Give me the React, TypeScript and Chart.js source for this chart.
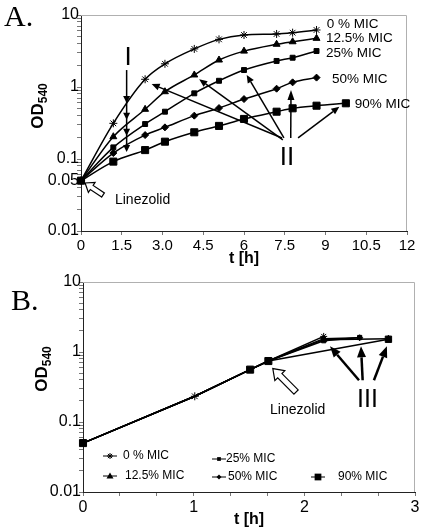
import React, { useEffect, useRef } from "react";
import { Chart, registerables } from "chart.js";

Chart.register(...registerables);

const FONT = "'Liberation Sans', Arial, sans-serif";
const SERIF = "'Liberation Serif', 'Times New Roman', serif";

// ---------------- Panel A data ----------------
const seriesNames = ["0 % MIC", "12.5% MIC", "25% MIC", "50% MIC", "90% MIC"];
const timeA = [0, 1.19, 2.36, 3.09, 4.17, 5.08, 6.0, 7.2, 7.79, 8.67];
const timeA90 = [0, 1.19, 2.36, 3.09, 4.17, 5.08, 6.0, 7.2, 7.79, 8.67, 9.75];
const odA0 = [0.05, 0.313, 1.28, 2.1, 3.38, 4.59, 5.27, 5.45, 5.68, 6.19];
const odA12 = [0.05, 0.204, 0.49, 0.86, 1.47, 2.37, 3.15, 3.92, 4.25, 4.74];
const odA25 = [0.05, 0.145, 0.306, 0.454, 0.817, 1.22, 1.72, 2.3, 2.55, 3.16];
const odA50 = [0.05, 0.121, 0.215, 0.275, 0.4, 0.51, 0.68, 0.947, 1.16, 1.35];
const odA90 = [0.05, 0.092, 0.133, 0.174, 0.235, 0.288, 0.36, 0.454, 0.506, 0.55, 0.594];

const xTicksA = [0, 1.5, 3, 4.5, 6, 7.5, 9, 10.5, 12];
const xTickLabelsA = ["0", "1.5", "3.0", "4.5", "6", "7.5", "9", "10.5", "12"];
const yLabelValuesA = [0.01, 0.05, 0.1, 1, 10];
const yLabelTextsA = ["0.01", "0.05", "0.1", "1", "10"];

// ---------------- Panel B data ----------------
const timeBCommon = [0, 1.01, 1.51, 1.675];
const odBCommon = [0.05, 0.233, 0.56, 0.743];
const timeB0 = [2.175];
const odB0 = [1.67];
const timeB12 = [2.175, 2.76];
const odB12 = [1.5, 1.55];
const timeB25 = [2.175, 2.5];
const odB25 = [1.45, 1.61];
const timeB50 = [2.175, 2.5];
const odB50 = [1.55, 1.6];
const timeB90 = [2.76];
const odB90 = [1.52];

const xTicksB = [0, 1 / 3, 2 / 3, 1, 4 / 3, 5 / 3, 2, 7 / 3, 8 / 3, 3];
const xTickLabelsB = ["0", "", "", "1", "", "", "2", "", "", "3"];
const yLabelValuesB = [0.01, 0.1, 1, 10];
const yLabelTextsB = ["0.01", "0.1", "1", "10"];

// log minor tick values (1..9 per decade)
const logTickValues: number[] = [];
for (let e = -2; e < 1; e++) {
  for (let m = 1; m < 10; m++) logTickValues.push(parseFloat((m * Math.pow(10, e)).toPrecision(3)));
}
logTickValues.push(10);

// ---------------- Annotation anchors (data units) ----------------
const labelPosA: [number, number][] = [
  [9.05, 7.5],
  [9.02, 4.8],
  [9.02, 2.97],
  [9.24, 1.29],
  [10.08, 0.58],
];
const arrowIT = 1.68;
const arrowITop = 1.72;
const arrowIHeads = [0.6, 0.35, 0.21, 0.125];
const labelIPos: [number, number] = [1.73, 2.57];
const arrowsII: [number, number, number, number][] = [
  [7.4, 0.196, 2.6, 1.1],
  [7.43, 0.184, 4.35, 1.28],
  [7.47, 0.196, 6.1, 1.47],
  [7.72, 0.196, 7.73, 0.908],
  [7.99, 0.196, 9.51, 0.532],
];
const labelIIPos: [number, number] = [7.58, 0.103];
const linezolidArrowA: [number, number, number, number] = [0.81, 0.0316, 0.15, 0.0464];
const linezolidTextA: [number, number] = [1.25, 0.027];

const linezolidArrowB: [number, number, number, number] = [1.925, 0.268, 1.715, 0.58];
const linezolidTextB: [number, number] = [1.69, 0.15];
const arrowsIII: [number, number, number, number][] = [
  [2.494, 0.395, 2.232, 1.205],
  [2.527, 0.395, 2.512, 1.205],
  [2.629, 0.395, 2.746, 1.205],
];
const labelIIIPos: [number, number] = [2.57, 0.204];

const pointStyles = ["star", "triangle", "rect", "rectRot", "rect"];
const pointRadii = [4, 4, 3.5, 3.5, 5];

// ---------------- helpers ----------------
function drawArrow(ctx: CanvasRenderingContext2D, x1: number, y1: number, x2: number, y2: number, lw: number, hl: number, hw: number) {
  const ang = Math.atan2(y2 - y1, x2 - x1);
  const c = Math.cos(ang), s = Math.sin(ang);
  const bx = x2 - hl * c, by = y2 - hl * s;
  ctx.beginPath();
  ctx.moveTo(x1, y1);
  ctx.lineTo(bx, by);
  ctx.lineWidth = lw;
  ctx.stroke();
  ctx.beginPath();
  ctx.moveTo(x2, y2);
  ctx.lineTo(bx + (hw / 2) * s, by - (hw / 2) * c);
  ctx.lineTo(bx - (hw / 2) * s, by + (hw / 2) * c);
  ctx.closePath();
  ctx.fill();
}

function drawHollowArrow(ctx: CanvasRenderingContext2D, x1: number, y1: number, x2: number, y2: number, sw: number, hw: number, hl: number) {
  const ang = Math.atan2(y2 - y1, x2 - x1);
  const c = Math.cos(ang), s = Math.sin(ang);
  const len = Math.hypot(x2 - x1, y2 - y1);
  const P = (a: number, b: number): [number, number] => [x1 + a * c - b * s, y1 + a * s + b * c];
  const pts = [P(0, -sw / 2), P(len - hl, -sw / 2), P(len - hl, -hw / 2), P(len, 0), P(len - hl, hw / 2), P(len - hl, sw / 2), P(0, sw / 2)];
  ctx.beginPath();
  pts.forEach((p, i) => (i ? ctx.lineTo(p[0], p[1]) : ctx.moveTo(p[0], p[1])));
  ctx.closePath();
  ctx.fillStyle = "#fff";
  ctx.fill();
  ctx.lineWidth = 1.2;
  ctx.strokeStyle = "#000";
  ctx.stroke();
  ctx.fillStyle = "#000";
}

function drawYTitle(ctx: CanvasRenderingContext2D, cx: number, cy: number) {
  ctx.save();
  const mainFont = `bold 17px ${FONT}`;
  const subFont = `bold 12px ${FONT}`;
  ctx.font = mainFont;
  const w1 = ctx.measureText("OD").width;
  ctx.font = subFont;
  const w2 = ctx.measureText("540").width;
  const total = w1 + w2;
  ctx.translate(cx, cy + total / 2);
  ctx.rotate(-Math.PI / 2);
  ctx.fillStyle = "#000";
  ctx.textBaseline = "middle";
  ctx.textAlign = "left";
  ctx.font = mainFont;
  ctx.fillText("OD", 0, 0);
  ctx.font = subFont;
  ctx.fillText("540", w1, 6);
  ctx.restore();
}

function drawFrame(chart: any) {
  const { ctx, chartArea: a } = chart;
  ctx.save();
  ctx.strokeStyle = "#b0b0b0";
  ctx.lineWidth = 1;
  ctx.beginPath();
  ctx.moveTo(a.left, a.top + 0.5);
  ctx.lineTo(a.right - 0.5, a.top + 0.5);
  ctx.lineTo(a.right - 0.5, a.bottom);
  ctx.stroke();
  ctx.restore();
}

function drawLegendMarker(ctx: CanvasRenderingContext2D, style: string, x: number, y: number, r: number) {
  ctx.beginPath();
  if (style === "star") {
    ctx.moveTo(x - r, y); ctx.lineTo(x + r, y);
    ctx.moveTo(x, y - r); ctx.lineTo(x, y + r);
    ctx.moveTo(x - r * 0.7, y - r * 0.7); ctx.lineTo(x + r * 0.7, y + r * 0.7);
    ctx.moveTo(x - r * 0.7, y + r * 0.7); ctx.lineTo(x + r * 0.7, y - r * 0.7);
    ctx.lineWidth = 1;
    ctx.stroke();
    return;
  }
  if (style === "triangle") {
    ctx.moveTo(x, y - r); ctx.lineTo(x + r, y + r * 0.7); ctx.lineTo(x - r, y + r * 0.7);
  } else if (style === "rectRot") {
    ctx.moveTo(x, y - r); ctx.lineTo(x + r, y); ctx.lineTo(x, y + r); ctx.lineTo(x - r, y);
  } else {
    ctx.rect(x - r * 0.75, y - r * 0.75, r * 1.5, r * 1.5);
  }
  ctx.closePath();
  ctx.fill();
}

const legendB = [
  { lx: 103, ly: 186, tx: 123, r: 3 },
  { lx: 103, ly: 206, tx: 125, r: 3.5 },
  { lx: 212, ly: 189, tx: 226, r: 2.5 },
  { lx: 212, ly: 207, tx: 228, r: 2.5 },
  { lx: 311, ly: 207, tx: 338, r: 4.5 },
];

function tickLabel(values: number[], labels: string[]) {
  return (v: any) => {
    const n = Number(v);
    for (let i = 0; i < values.length; i++) if (Math.abs(values[i] - n) < 1e-6 * Math.max(1, values[i])) return labels[i];
    return "";
  };
}

function makeScales(opts: { xmax: number; xTicks: number[]; xLabels: string[]; yVals: number[]; yTexts: string[]; yWidth: number; xHeight: number; xFont: number }) {
  return {
    x: {
      type: "linear" as const,
      min: 0,
      max: opts.xmax,
      afterBuildTicks: (s: any) => {
        s.ticks = opts.xTicks.map((v) => ({ value: v }));
      },
      afterFit: (s: any) => {
        s.height = opts.xHeight;
      },
      ticks: {
        autoSkip: false,
        maxRotation: 0,
        color: "#000",
        padding: 2,
        font: { family: FONT, size: opts.xFont },
        callback: tickLabel(opts.xTicks, opts.xLabels),
      },
      grid: { drawOnChartArea: false, drawTicks: true, tickLength: 4, tickColor: "#777" },
      border: { display: true, color: "#222", width: 1 },
      title: {
        display: true,
        text: "t [h]",
        color: "#000",
        font: { family: FONT, size: 16, weight: "bold" as const },
        padding: { top: 0, bottom: 2 },
      },
    },
    y: {
      type: "logarithmic" as const,
      min: 0.01,
      max: 10,
      afterBuildTicks: (s: any) => {
        s.ticks = logTickValues.map((v) => ({ value: v }));
      },
      afterFit: (s: any) => {
        s.width = opts.yWidth;
      },
      ticks: {
        autoSkip: false,
        color: "#000",
        padding: -2,
        font: { family: FONT, size: 16 },
        callback: tickLabel(opts.yVals, opts.yTexts),
      },
      grid: { drawOnChartArea: false, drawTicks: true, tickLength: 4, tickColor: "#777" },
      border: { display: true, color: "#222", width: 1 },
    },
  };
}

function toXY(ts: number[], vs: number[]) {
  return ts.map((t, i) => ({ x: t, y: vs[i] }));
}

function configA(): any {
  const datasetsData = [
    toXY(timeA, odA0),
    toXY(timeA, odA12),
    toXY(timeA, odA25),
    toXY(timeA, odA50),
    toXY(timeA90, odA90),
  ];
  const datasets = datasetsData.map((d, i) => ({
    label: seriesNames[i],
    data: d,
    borderColor: "#000",
    backgroundColor: "#000",
    borderWidth: 1.5,
    pointStyle: pointStyles[i],
    pointRadius: pointRadii[i],
    pointBackgroundColor: "#000",
    pointBorderColor: "#000",
    pointBorderWidth: 1,
    cubicInterpolationMode: "monotone",
    clip: false,
  }));
  const annot = {
    id: "annotA",
    beforeDatasetsDraw: (chart: any) => drawFrame(chart),
    afterDraw: (chart: any) => {
      const { ctx, scales } = chart;
      const px = (t: number) => scales.x.getPixelForValue(t);
      const py = (v: number) => scales.y.getPixelForValue(v);
      ctx.save();
      ctx.fillStyle = "#000";
      ctx.strokeStyle = "#000";
      // series labels
      ctx.font = `13.5px ${FONT}`;
      ctx.textAlign = "left";
      ctx.textBaseline = "middle";
      seriesNames.forEach((n, i) => ctx.fillText(n, px(labelPosA[i][0]), py(labelPosA[i][1])));
      // Arrow I
      const ix = px(arrowIT);
      ctx.lineWidth = 1.5;
      ctx.beginPath();
      ctx.moveTo(ix, py(arrowITop));
      ctx.lineTo(ix, py(arrowIHeads[arrowIHeads.length - 1]) - 3);
      ctx.stroke();
      arrowIHeads.forEach((v) => {
        const y = py(v);
        ctx.beginPath();
        ctx.moveTo(ix, y);
        ctx.lineTo(ix - 3.5, y - 7);
        ctx.lineTo(ix + 3.5, y - 7);
        ctx.closePath();
        ctx.fill();
      });
      ctx.font = `26px ${FONT}`;
      ctx.textAlign = "center";
      ctx.fillText("I", px(labelIPos[0]), py(labelIPos[1]));
      // Arrows II
      arrowsII.forEach((a, i) => drawArrow(ctx, px(a[0]), py(a[1]), px(a[2]), py(a[3]), 1.5, i === 3 ? 10 : 8, 7));
      ctx.font = `26px ${FONT}`;
      ctx.fillText("II", px(labelIIPos[0]), py(labelIIPos[1]));
      // Linezolid
      drawHollowArrow(ctx, px(linezolidArrowA[0]), py(linezolidArrowA[1]), px(linezolidArrowA[2]), py(linezolidArrowA[3]), 5, 12, 8);
      ctx.font = `14px ${FONT}`;
      ctx.textAlign = "left";
      ctx.fillText("Linezolid", px(linezolidTextA[0]), py(linezolidTextA[1]));
      // panel letter and y title
      ctx.font = `30px ${SERIF}`;
      ctx.textBaseline = "alphabetic";
      ctx.fillText("A.", 4, 26);
      ctx.restore();
      drawYTitle(ctx, 38, 106);
    },
  };
  return {
    type: "line",
    data: { datasets },
    options: {
      animation: false,
      responsive: false,
      events: [],
      layout: { padding: { left: 0, top: 15, right: 15, bottom: 0 } },
      plugins: { legend: { display: false }, tooltip: { enabled: false }, title: { display: false } },
      scales: makeScales({ xmax: 12, xTicks: xTicksA, xLabels: xTickLabelsA, yVals: yLabelValuesA, yTexts: yLabelTextsA, yWidth: 81, xHeight: 39, xFont: 15 }),
    },
    plugins: [annot],
  };
}

function configB(): any {
  const branches: [number[], number[]][] = [
    [timeB0, odB0],
    [timeB12, odB12],
    [timeB25, odB25],
    [timeB50, odB50],
    [timeB90, odB90],
  ];
  const nC = timeBCommon.length;
  const datasets = branches.map((b, i) => ({
    label: seriesNames[i],
    data: toXY(timeBCommon.concat(b[0]), odBCommon.concat(b[1])),
    borderColor: "#000",
    backgroundColor: "#000",
    borderWidth: 1.5,
    pointStyle: pointStyles[i],
    pointRadius: (c: any) => {
      if (c.dataIndex >= nC) return i === 4 ? 4.5 : pointRadii[i] - 0.5;
      if (i === 4 && c.dataIndex !== 1) return 5;
      if (i === 0 && c.dataIndex === 1) return 4;
      return 0;
    },
    pointBackgroundColor: "#000",
    pointBorderColor: "#000",
    pointBorderWidth: 1,
    tension: 0,
    clip: false,
  }));
  const annot = {
    id: "annotB",
    beforeDatasetsDraw: (chart: any) => drawFrame(chart),
    afterDraw: (chart: any) => {
      const { ctx, scales } = chart;
      const px = (t: number) => scales.x.getPixelForValue(t);
      const py = (v: number) => scales.y.getPixelForValue(v);
      ctx.save();
      ctx.fillStyle = "#000";
      ctx.strokeStyle = "#000";
      // Linezolid
      drawHollowArrow(ctx, px(linezolidArrowB[0]), py(linezolidArrowB[1]), px(linezolidArrowB[2]), py(linezolidArrowB[3]), 6, 14, 10);
      ctx.font = `14px ${FONT}`;
      ctx.textAlign = "left";
      ctx.textBaseline = "middle";
      ctx.fillText("Linezolid", px(linezolidTextB[0]), py(linezolidTextB[1]));
      // Arrows III
      arrowsIII.forEach((a) => drawArrow(ctx, px(a[0]), py(a[1]), px(a[2]), py(a[3]), 2.5, 11, 9));
      ctx.font = `25px ${FONT}`;
      ctx.textAlign = "center";
      ctx.fillText("III", px(labelIIIPos[0]), py(labelIIIPos[1]));
      // Legend
      ctx.font = `12px ${FONT}`;
      ctx.textAlign = "left";
      legendB.forEach((L, i) => {
        ctx.lineWidth = 1;
        ctx.beginPath();
        ctx.moveTo(L.lx, L.ly);
        ctx.lineTo(L.lx + 14, L.ly);
        ctx.stroke();
        drawLegendMarker(ctx, pointStyles[i], L.lx + 7, L.ly, L.r);
        ctx.fillText(seriesNames[i], L.tx, L.ly);
      });
      // panel letter
      ctx.font = `30px ${SERIF}`;
      ctx.textBaseline = "alphabetic";
      ctx.fillText("B.", 11, 40);
      ctx.restore();
      drawYTitle(ctx, 42, 99);
    },
  };
  return {
    type: "line",
    data: { datasets },
    options: {
      animation: false,
      responsive: false,
      events: [],
      layout: { padding: { left: 0, top: 12, right: 7, bottom: 0 } },
      plugins: { legend: { display: false }, tooltip: { enabled: false }, title: { display: false } },
      scales: makeScales({ xmax: 3, xTicks: xTicksB, xLabels: xTickLabelsB, yVals: yLabelValuesB, yTexts: yLabelTextsB, yWidth: 83, xHeight: 39, xFont: 16 }),
    },
    plugins: [annot],
  };
}

export default function App() {
  const refA = useRef<HTMLCanvasElement>(null);
  const refB = useRef<HTMLCanvasElement>(null);
  useEffect(() => {
    const a = new Chart(refA.current as HTMLCanvasElement, configA());
    const b = new Chart(refB.current as HTMLCanvasElement, configB());
    return () => {
      a.destroy();
      b.destroy();
    };
  }, []);
  return (
    <div style={{ position: "absolute", left: 0, top: 0, width: 422, height: 531, background: "#fff" }}>
      <canvas ref={refA} width={422} height={270} style={{ position: "absolute", left: 0, top: 0, width: 422, height: 270 }} />
      <canvas ref={refB} width={422} height={261} style={{ position: "absolute", left: 0, top: 270, width: 422, height: 261 }} />
    </div>
  );
}
